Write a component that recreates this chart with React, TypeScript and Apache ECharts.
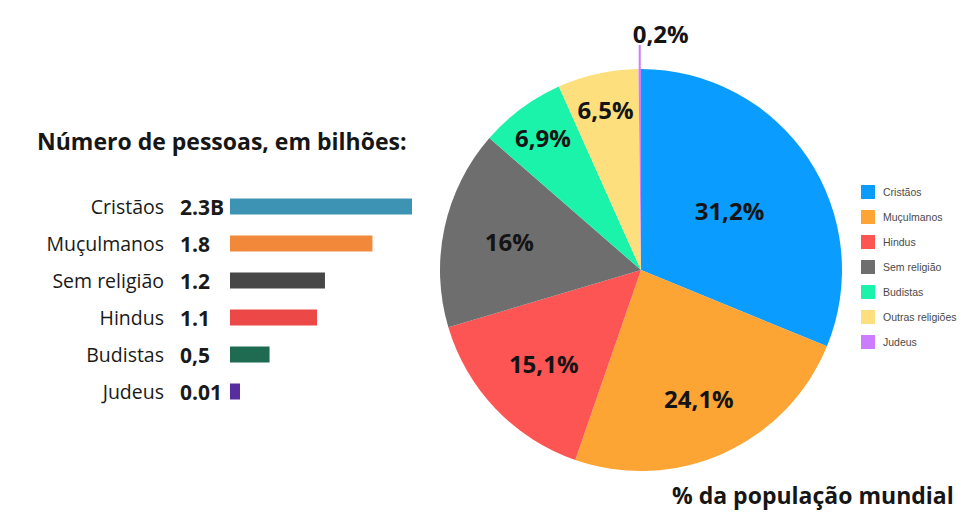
import React, { useEffect, useRef } from "react";
import * as echarts from "echarts";

// ---- Bar chart data (número de pessoas, em bilhões) ----
const barCategories = ["Cristãos", "Muçulmanos", "Sem religião", "Hindus", "Budistas", "Judeus"];
const barValues = [2.3, 1.8, 1.2, 1.1, 0.5, 0.01];
const barValueLabels = ["2.3B", "1.8", "1.2", "1.1", "0,5", "0.01"];
const barColors = ["#3d93b4", "#f2893a", "#474747", "#ec4848", "#1f6b51", "#5a2d9e"];

// ---- Pie chart data (% da população mundial) ----
const pieNames = ["Cristãos", "Muçulmanos", "Hindus", "Sem religião", "Budistas", "Outras religiões", "Judeus"];
const pieValues = [31.2, 24.1, 15.1, 16, 6.9, 6.5, 0.2];
const pieLabels = ["31,2%", "24,1%", "15,1%", "16%", "6,9%", "6,5%", "0,2%"];
const pieColors = ["#0a9cff", "#fca535", "#fd5454", "#6e6e6e", "#1cf3aa", "#fde07d", "#cc7cff"];
// style: how far out (fraction of the radius) each inside label sits
const labelRadiusFrac = [0.53, 0.7, 0.67, 0.67, 0.82, 0.82, 0];

const FONT = "'Open Sans', 'Noto Sans', sans-serif";
const PIE_CX = 641;
const PIE_CY = 270;
const PIE_R = 201;

export default function App() {
  const ref = useRef<HTMLDivElement>(null);

  useEffect(() => {
    document.body.style.margin = "0";
    if (!ref.current) return;
    const chart = echarts.init(ref.current, null, { renderer: "svg" });

    const total = pieValues.reduce((a, b) => a + b, 0);
    const midAngles: number[] = [];
    let acc = 0;
    pieValues.forEach((v) => {
      midAngles.push(((acc + v / 2) / total) * 2 * Math.PI);
      acc += v;
    });

    const pieData = pieNames.map((name, i) => {
      const item: any = { name, value: pieValues[i], itemStyle: { color: pieColors[i] } };
      if (i === pieNames.length - 1) {
        item.label = { position: "outside", distanceToLabelLine: 0 };
        item.labelLine = {
          show: true,
          length: 24,
          length2: 0,
          smooth: false,
          lineStyle: { color: pieColors[i], width: 2 },
        };
      }
      return item;
    });

    const option: any = {
      animation: false,
      backgroundColor: "#ffffff",
      textStyle: { fontFamily: FONT },
      graphic: [
        {
          type: "text",
          left: 37,
          top: 129,
          style: {
            text: "Número de pessoas, em bilhões:",
            font: `bold 23px ${FONT}`,
            fill: "#161616",
          },
        },
        {
          type: "text",
          left: 672,
          top: 483,
          style: {
            text: "% da população mundial",
            font: `bold 23px ${FONT}`,
            fill: "#161616",
          },
        },
      ],
      legend: {
        data: pieNames,
        orient: "vertical",
        left: 856,
        top: 180,
        itemWidth: 14,
        itemHeight: 14,
        itemGap: 11,
        icon: "rect",
        selectedMode: false,
        textStyle: {
          fontSize: 10.5,
          color: "#4a4a4a",
          fontFamily: "'Liberation Sans', Arial, sans-serif",
          padding: [0, 0, 0, 3],
        },
      },
      grid: { left: 230, right: 550, top: 188, height: 222, containLabel: false },
      xAxis: {
        type: "value",
        min: 0,
        max: 2.3,
        show: false,
      },
      yAxis: {
        type: "category",
        data: barCategories,
        inverse: true,
        axisLine: { show: false },
        axisTick: { show: false },
        splitLine: { show: false },
        axisLabel: {
          margin: 66,
          fontSize: 19.5,
          color: "#1a1a1a",
          fontFamily: FONT,
        },
      },
      series: [
        {
          type: "bar",
          data: barValues.map((v, i) => ({ value: v, itemStyle: { color: barColors[i] } })),
          barWidth: 16,
          barMinHeight: 10,
          label: {
            show: true,
            position: "insideLeft",
            distance: 0,
            offset: [-50, 0],
            formatter: (p: any) => barValueLabels[p.dataIndex],
            fontSize: 21,
            fontWeight: "bold",
            color: "#1a1a1a",
            fontFamily: FONT,
          },
        },
        {
          type: "pie",
          center: [PIE_CX, PIE_CY],
          radius: [0, PIE_R],
          startAngle: 90,
          clockwise: true,
          avoidLabelOverlap: false,
          itemStyle: { borderWidth: 0 },
          label: {
            show: true,
            position: "inside",
            formatter: (p: any) => pieLabels[p.dataIndex],
            fontSize: 24,
            fontWeight: "bold",
            color: "#141414",
            fontFamily: FONT,
          },
          labelLine: { show: false },
          labelLayout: (params: any) => {
            const i = params.dataIndex;
            if (i === pieNames.length - 1) {
              const pts = params.labelLinePoints;
              if (pts && pts.length) {
                const start = pts[0];
                const end = pts[pts.length - 1];
                return {
                  x: start[0] + 21,
                  y: end[1] - 12,
                  align: "center",
                  verticalAlign: "middle",
                  labelLinePoints: [
                    [start[0], start[1]],
                    [start[0], end[1]],
                    [start[0], end[1]],
                  ],
                };
              }
              return {};
            }
            const a = midAngles[i];
            const f = labelRadiusFrac[i] * PIE_R;
            return {
              x: PIE_CX + Math.sin(a) * f,
              y: PIE_CY - Math.cos(a) * f,
              align: "center",
              verticalAlign: "middle",
            };
          },
          data: pieData,
        },
      ],
    };

    chart.setOption(option);
    return () => chart.dispose();
  }, []);

  return <div ref={ref} style={{ width: 962, height: 515 }} />;
}
